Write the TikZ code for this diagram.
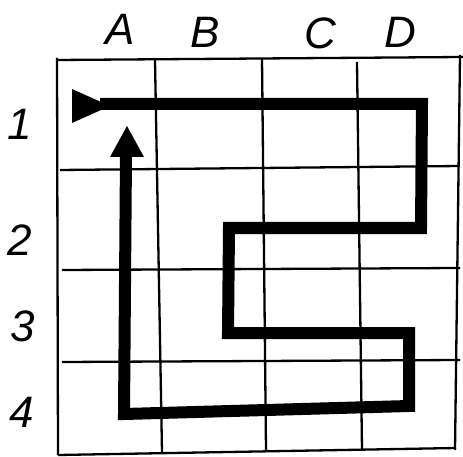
\documentclass[tikz,border=0pt]{standalone}
\usepackage{fontspec}
\setmainfont{Liberation Sans}
\begin{document}
\begin{tikzpicture}[x=1pt,y=-1pt,
  gridline/.style={line width=2.3pt,black},
  route/.style={line width=12pt,black,line join=miter,line cap=butt},
  lbl/.style={font=\itshape\fontsize{44}{46}\selectfont,inner sep=0pt}]
\useasboundingbox (0,0) rectangle (463,457);
% grid
\draw[gridline] (57,60) -- (463,57);
\draw[gridline] (60,170) -- (460,166);
\draw[gridline] (62,270) -- (460,268);
\draw[gridline] (62,362) -- (460,360);
\draw[gridline] (58,455) -- (456,448);
\draw[gridline] (57,58) -- (58,455);
\draw[gridline] (155,60) -- (162,452);
\draw[gridline] (262,58) -- (266,450);
\draw[gridline] (357,62) -- (362,450);
\draw[gridline] (460,55) -- (455,450);
% labels
\node[lbl] (la) at (120,29) {A};
\node[lbl] (lb) at (205,32) {B};
\node[lbl] (lc) at (320,33) {C};
\node[lbl] (ld) at (400,32) {D};
\node[lbl] (l1) at (20,124) {1};
\node[lbl] (l2) at (20,240) {2};
\node[lbl] (l3) at (23,326) {3};
\node[lbl] (l4) at (22,412) {4};
% route
\coordinate (p0) at (100,104);
\coordinate (p1) at (422,104);
\coordinate (p2) at (421,228);
\coordinate (p3) at (229,228);
\coordinate (p4) at (228,333);
\coordinate (p5) at (409,333);
\coordinate (p6) at (409,406);
\coordinate (p7) at (124,414);
\coordinate (p8) at (126,154);
\draw[route] (p0) -- (p1) -- (p2) -- (p3) -- (p4) -- (p5) -- (p6) -- (p7) -- (p8);
% tail
\fill (72,89) -- (72,123) -- (110,106) -- cycle;
% head
\fill (127,126) -- (110,157) -- (144,157) -- cycle;
\end{tikzpicture}
\end{document}
